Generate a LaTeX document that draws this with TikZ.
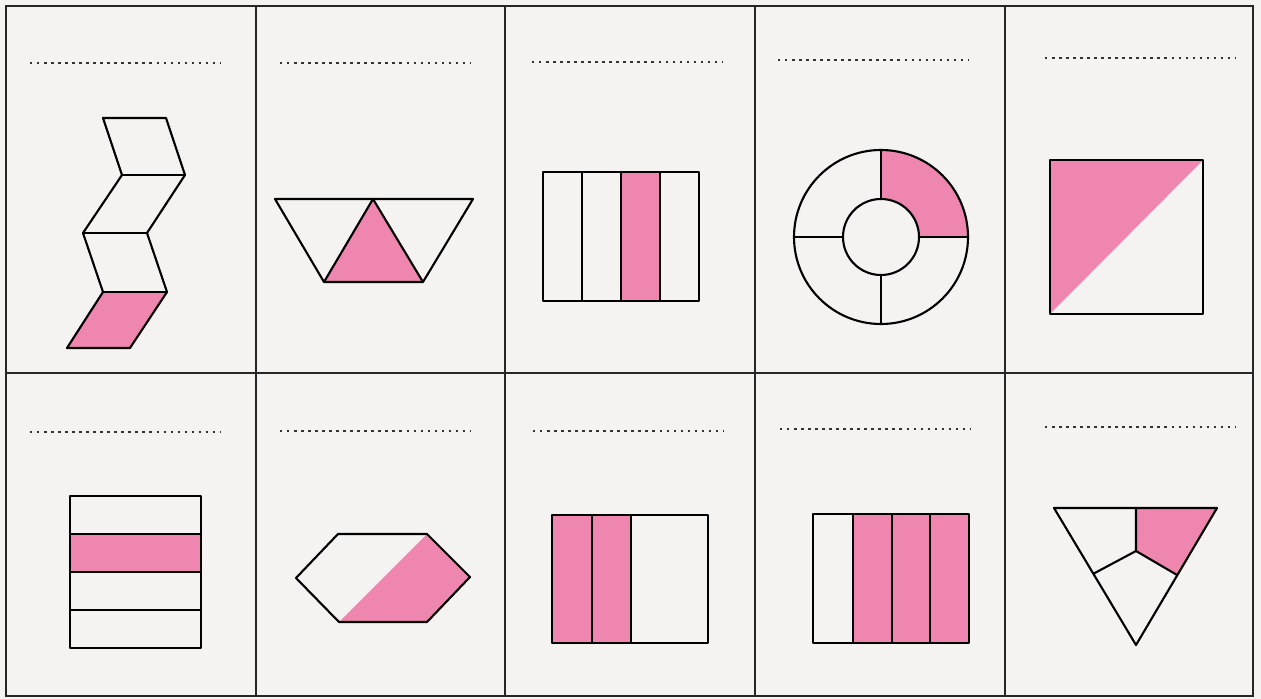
\documentclass[tikz,border=0pt]{standalone}
\usetikzlibrary{calc}
\definecolor{shade}{RGB}{238,134,176}
\definecolor{paper}{RGB}{245,242,242}
\begin{document}
\begin{tikzpicture}[
    x=0.02cm, y=-0.02cm,
    frame/.style={draw=black!85, line width=1.4pt},
    answer/.style={
      draw=black!80,
      line width=1.4pt,
      dash pattern=on 1.4pt off 2.6pt,
    },
    piece/.style={draw=black, line width=1.2pt, line join=round},
    part/.style={fill=shade},
  ]
  \fill[paper] (0,0) rectangle (1261,699);
  \useasboundingbox (0,0) rectangle (1261,699);
  % table
  \draw[frame] (6,6) rectangle (1253,696);
  \draw[frame] (6,373) -- (1253,373);
  \foreach \x in {256,505,755,1005}
    \draw[frame] (\x,6) -- (\x,696);
  % answer lines
  \foreach \x/\y in {30/63,280/63,532/62,778/60,1045/58,30/432,280/431,533/431,780/429,1045/427}
    \draw[answer] (\x,\y) -- ++(190,0);
  % zigzag
  \fill[part] (103,292) -- (167,292) -- (130,348) -- (67,348) -- cycle;
  \draw[piece] (103,118) -- (166,118) -- (185,175) -- (147,233) -- (167,292)
    -- (130,348) -- (67,348) -- (103,292) -- (83,233) -- (122,175) -- cycle;
  \draw[piece] (122,175) -- (185,175) (83,233) -- (147,233) (103,292) -- (167,292);
  % trapezoid
  \fill[part] (373,199) -- (423,282) -- (324,282) -- cycle;
  \draw[piece] (275,199) -- (473,199) -- (423,282) -- (324,282) -- cycle;
  \draw[piece] (324,282) -- (373,199) -- (423,282);
  % four strips
  \fill[part] (621,172) rectangle (660,301);
  \draw[piece] (543,172) rectangle (699,301);
  \foreach \x in {582,621,660}
    \draw[piece] (\x,172) -- (\x,301);
  % ring
  \begin{scope}[shift={(881,237)}, y=0.02cm]
    \fill[part] (0,38) -- (0,87) arc[start angle=90, end angle=0, radius=87]
      -- (38,0) arc[start angle=0, end angle=90, radius=38] -- cycle;
    \draw[piece] (0,0) circle[radius=87] (0,0) circle[radius=38];
    \draw[piece] (0,38) -- (0,87) (0,-38) -- (0,-87) (38,0) -- (87,0) (-38,0) -- (-87,0);
  \end{scope}
  % square
  \fill[part] (1050,160) -- (1203,160) -- (1050,314) -- cycle;
  \draw[piece] (1050,160) rectangle (1203,314);
  % bars
  \fill[part] (70,534) rectangle (201,572);
  \draw[piece] (70,496) rectangle (201,648);
  \foreach \y in {534,572,610}
    \draw[piece] (70,\y) -- (201,\y);
  % hexagon
  \fill[part] (427,534) -- (470,577) -- (427,622) -- (339,622) -- cycle;
  \draw[piece] (296,578) -- (338,534) -- (427,534) -- (470,577) -- (427,622) -- (339,622) -- cycle;
  % half strips
  \fill[part] (552,515) rectangle (631,643);
  \draw[piece] (552,515) rectangle (708,643);
  \foreach \x in {592,631}
    \draw[piece] (\x,515) -- (\x,643);
  % three of four
  \fill[part] (853,514) rectangle (969,643);
  \draw[piece] (813,514) rectangle (969,643);
  \foreach \x in {853,892,930}
    \draw[piece] (\x,514) -- (\x,643);
  % triangle
  \coordinate (tri left) at (1054,508);
  \coordinate (tri right) at (1217,508);
  \coordinate (tri tip) at (1136,645);
  \coordinate (tri mid) at (1136,551);
  \coordinate (tri top) at (1136,508);
  \coordinate (tri lside) at ($(tri left)!0.48!(tri tip)$);
  \coordinate (tri rside) at ($(tri right)!0.49!(tri tip)$);
  \fill[part] (tri top) -- (tri right) -- (tri rside) -- (tri mid) -- cycle;
  \draw[piece] (tri left) -- (tri right) -- (tri tip) -- cycle;
  \draw[piece] (tri top) -- (tri mid) -- (tri lside) (tri mid) -- (tri rside);
\end{tikzpicture}
\end{document}
